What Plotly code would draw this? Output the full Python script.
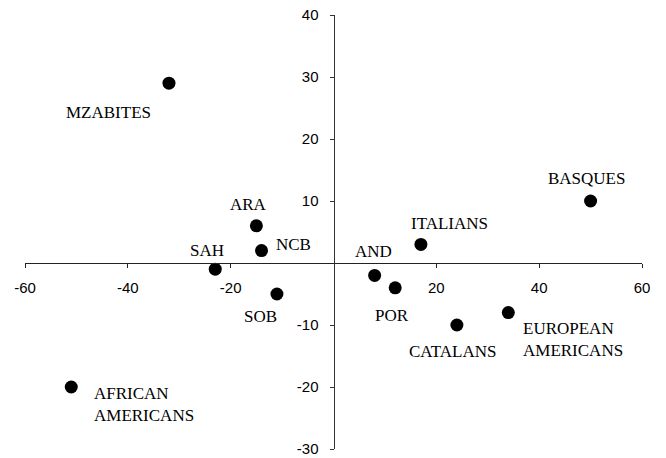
import plotly.graph_objects as go

# ---- data ----
populations = ["MZABITES", "ARA", "NCB", "SAH", "SOB", "AFRICAN<br>AMERICANS",
               "AND", "POR", "ITALIANS", "BASQUES", "CATALANS", "EUROPEAN<br>AMERICANS"]
pc_x = [-32, -15, -14, -23, -11, -51, 8, 12, 17, 50, 24, 34]
pc_y = [29, 6, 2, -1, -5, -20, -2, -4, 3, 10, -10, -8]

x_ticks = [-60, -40, -20, 20, 40, 60]
x_tick_text = ["-60", "-40", "-20", "20", "40", "60"]
y_ticks = [-30, -20, -10, 10, 20, 30, 40]
y_tick_text = ["-30", "-20", "-10", "10", "20", "30", "40"]
x_range = [-60, 60]
y_range = [-30, 40]

# label placement (pixel offsets from point, anchor)
label_style = [
    (-60, -29, "center"), (-8, 21, "center"), (32, 6, "center"), (-8, 19, "center"),
    (-16, -22, "center"), (21, -17, "left"), (-1, 24, "center"), (-3, -28, "center"),
    (29, 21, "center"), (-4, 23, "center"), (-4, -26, "center"), (13, -27, "left"),
]

fig = go.Figure()
fig.add_trace(go.Scatter(
    x=pc_x, y=pc_y, mode="markers",
    marker=dict(size=13, color="black"),
    hoverinfo="skip", showlegend=False,
))

for name, xv, yv, (dx, dy, anc) in zip(populations, pc_x, pc_y, label_style):
    fig.add_annotation(
        x=xv, y=yv, text=name, showarrow=False,
        xshift=dx, yshift=dy, xanchor=anc, yanchor="middle", align="left",
        font=dict(family="Liberation Serif", size=17, color="black"),
    )

axis_font = dict(family="Liberation Sans", size=15, color="black")

fig.update_layout(
    width=666, height=458,
    margin=dict(l=25, r=24, t=15, b=9, autoexpand=False),
    paper_bgcolor="white", plot_bgcolor="white",
    xaxis=dict(
        range=x_range, domain=[0, 1], anchor="free", automargin=False,
        position=(0 - y_range[0]) / (y_range[1] - y_range[0]),
        showgrid=False, zeroline=False, showline=True, linecolor="#222", linewidth=1,
        ticks="outside", ticklen=4, tickcolor="#222",
        tickvals=x_ticks, ticktext=x_tick_text, tickfont=axis_font,
        ticklabelstandoff=7,
    ),
    yaxis=dict(
        range=y_range, domain=[0, 1], anchor="free", automargin=False,
        position=(0 - x_range[0]) / (x_range[1] - x_range[0]),
        showgrid=False, zeroline=False, showline=True, linecolor="#333", linewidth=1,
        ticks="outside", ticklen=4, tickcolor="#333",
        tickvals=y_ticks, ticktext=y_tick_text, tickfont=axis_font,
        ticklabelstandoff=8,
    ),
)

fig.write_html(
    "out.html",
    config={"displayModeBar": False},
    post_script="document.body.style.margin='0';document.body.style.overflow='hidden';",
)
